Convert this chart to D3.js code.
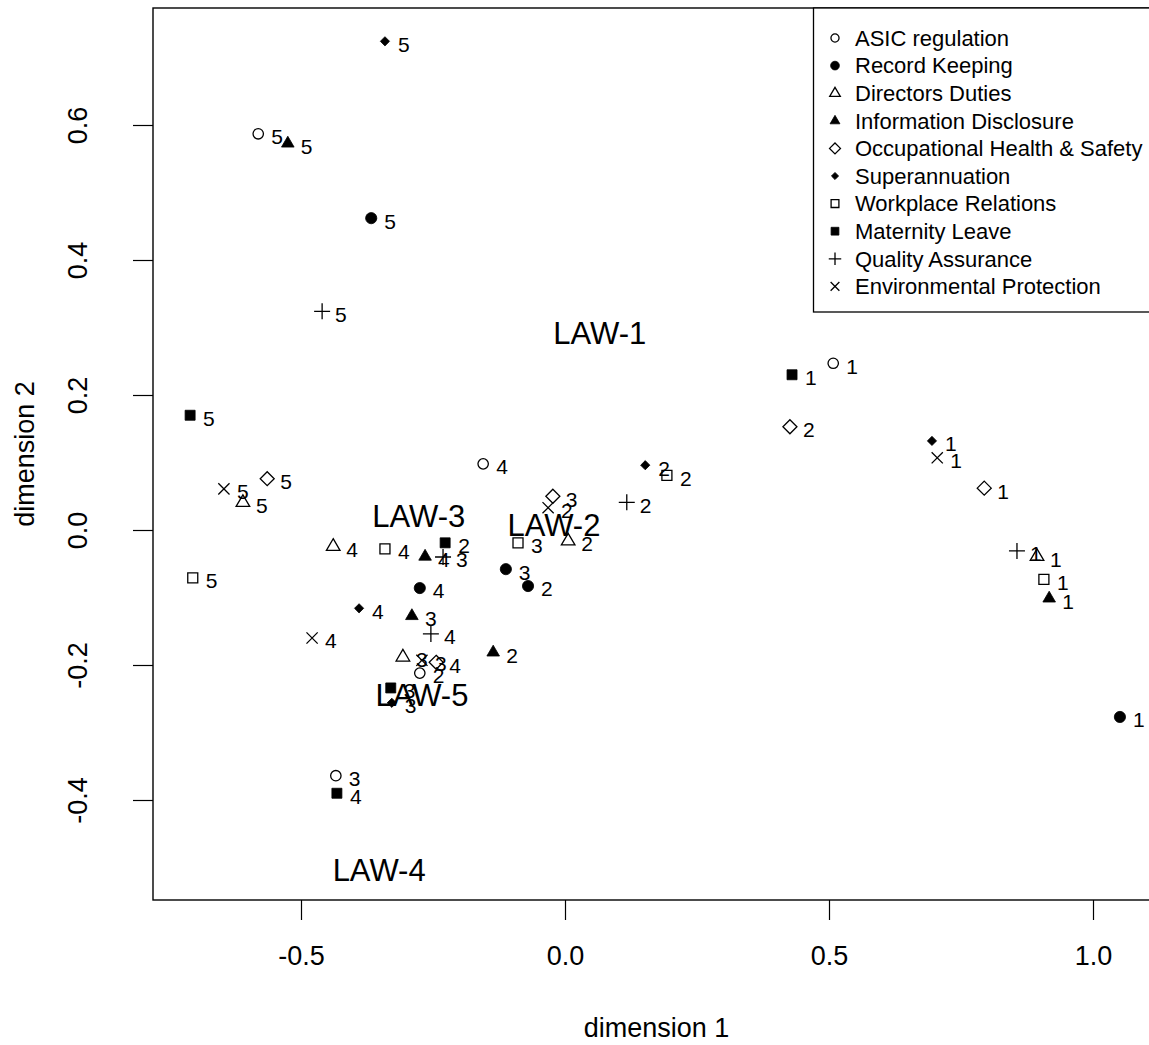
<!DOCTYPE html>
<html>
<head>
<meta charset="utf-8">
<script src="https://cdn.jsdelivr.net/npm/d3@7"></script>
<style>
  body { margin: 0; background: #fff; }
  text { font-family: Arial, "Liberation Sans", sans-serif; fill: #000; }
</style>
</head>
<body>
<svg id="chart" width="1149" height="1045"></svg>
<script>
// Regulation categories, in legend order
const categories = [
  "ASIC regulation", "Record Keeping", "Directors Duties", "Information Disclosure",
  "Occupational Health & Safety", "Superannuation", "Workplace Relations",
  "Maternity Leave", "Quality Assurance", "Environmental Protection"
];
// Point labels: the law each coordinate belongs to
const laws = ["1", "2", "3", "4", "5"];

// Coordinates per category, one entry per law (LAW-1 .. LAW-5)
const asicDim1 = [0.508, -0.275, -0.434, -0.155, -0.581];
const asicDim2 = [0.247, -0.212, -0.364, 0.098, 0.587];
const recordDim1 = [1.051, -0.070, -0.112, -0.275, -0.367];
const recordDim2 = [-0.277, -0.083, -0.058, -0.086, 0.462];
const directorsDim1 = [0.894, 0.006, -0.307, -0.439, -0.610];
const directorsDim2 = [-0.039, -0.016, -0.188, -0.024, 0.041];
const disclosureDim1 = [0.917, -0.136, -0.290, -0.265, -0.525];
const disclosureDim2 = [-0.101, -0.181, -0.127, -0.039, 0.573];
const ohsDim1 = [0.794, 0.426, -0.023, -0.244, -0.564];
const ohsDim2 = [0.062, 0.153, 0.050, -0.196, 0.076];
const superDim1 = [0.695, 0.152, -0.328, -0.390, -0.341];
const superDim2 = [0.132, 0.096, -0.256, -0.116, 0.724];
const workplaceDim1 = [0.907, 0.193, -0.089, -0.341, -0.705];
const workplaceDim2 = [-0.073, 0.081, -0.019, -0.028, -0.071];
const maternityDim1 = [0.430, -0.227, -0.330, -0.432, -0.710];
const maternityDim2 = [0.230, -0.019, -0.234, -0.390, 0.170];
const qualityDim1 = [0.856, 0.117, -0.231, -0.254, -0.460];
const qualityDim2 = [-0.031, 0.041, -0.040, -0.154, 0.324];
const environDim1 = [0.705, -0.032, -0.271, -0.479, -0.646];
const environDim2 = [0.107, 0.033, -0.193, -0.160, 0.061];

// Law centroid labels
const lawNames = ["LAW-1", "LAW-2", "LAW-3", "LAW-4", "LAW-5"];
const lawDim1 = [0.066, -0.021, -0.277, -0.352, -0.271];
const lawDim2 = [0.292, 0.007, 0.021, -0.504, -0.244];

// Axis ticks
const xTicks = [-0.5, 0.0, 0.5, 1.0];
const yTicks = [-0.4, -0.2, 0.0, 0.2, 0.4, 0.6];

const symbolKinds = ["circleOpen", "circleFilled", "triOpen", "triFilled", "diamondOpen",
                     "diamondSmall", "squareOpen", "squareFilled", "plus", "cross"];
const dim1Sets = [asicDim1, recordDim1, directorsDim1, disclosureDim1, ohsDim1,
                  superDim1, workplaceDim1, maternityDim1, qualityDim1, environDim1];
const dim2Sets = [asicDim2, recordDim2, directorsDim2, disclosureDim2, ohsDim2,
                  superDim2, workplaceDim2, maternityDim2, qualityDim2, environDim2];

const series = categories.map((name, i) => ({
  name, kind: symbolKinds[i],
  points: laws.map((law, j) => ({ law, d1: dim1Sets[i][j], d2: dim2Sets[i][j] }))
}));

const svg = d3.select("#chart");
const box = { left: 153, top: 8, right: 1160, bottom: 900 };

const x = d3.scaleLinear().domain([-0.5, 1.0]).range([301, 1093]);
const y = d3.scaleLinear().domain([-0.4, 0.6]).range([800, 125]);

// Plot-style symbols (base-graphics look)
function symbolPath(kind, s) {
  switch (kind) {
    case "circleOpen":
    case "circleFilled": {
      const r = (kind === "circleOpen" ? 5.2 : 5.6) * s;
      return `M${-r},0A${r},${r} 0 1,0 ${r},0A${r},${r} 0 1,0 ${-r},0Z`;
    }
    case "triOpen": {
      const h = 7.5 * s, w = 6.8 * s;
      return `M0,${-h}L${w},${h * 0.55}L${-w},${h * 0.55}Z`;
    }
    case "triFilled": {
      const h = 7 * s, w = 6.3 * s;
      return `M0,${-h}L${w},${h * 0.55}L${-w},${h * 0.55}Z`;
    }
    case "diamondOpen": {
      const d = 7 * s;
      return `M0,${-d}L${d},0L0,${d}L${-d},0Z`;
    }
    case "diamondSmall": {
      const d = 4.6 * s;
      return `M0,${-d}L${d},0L0,${d}L${-d},0Z`;
    }
    case "squareOpen":
    case "squareFilled": {
      const a = 5 * s;
      return `M${-a},${-a}H${a}V${a}H${-a}Z`;
    }
    case "plus": {
      const a = 8 * s;
      return `M${-a},0H${a}M0,${-a}V${a}`;
    }
    case "cross": {
      const a = 5.6 * s;
      return `M${-a},${-a}L${a},${a}M${-a},${a}L${a},${-a}`;
    }
  }
}
const filledKinds = new Set(["circleFilled", "triFilled", "diamondSmall", "squareFilled"]);

function drawSymbol(sel, kind, s) {
  sel.append("path")
    .attr("d", symbolPath(kind, s))
    .attr("fill", filledKinds.has(kind) ? "#000" : "none")
    .attr("stroke", "#000")
    .attr("stroke-width", filledKinds.has(kind) ? 0.8 : 1.3);
}

// Axes
const xAxis = svg.append("g")
  .attr("transform", `translate(0,${box.bottom})`)
  .call(d3.axisBottom(x).tickValues(xTicks).tickSize(20).tickPadding(26)
    .tickFormat(d => d.toFixed(1)));
xAxis.select(".domain").remove();
xAxis.selectAll("line").attr("stroke", "#000").attr("stroke-width", 1.2);
xAxis.selectAll("text").attr("font-size", 27).attr("font-family", "Arial, 'Liberation Sans', sans-serif");

const yAxis = svg.append("g")
  .attr("transform", `translate(${box.left},0)`)
  .call(d3.axisLeft(y).tickValues(yTicks).tickSize(20).tickFormat(d => d.toFixed(1)));
yAxis.select(".domain").remove();
yAxis.selectAll("line").attr("stroke", "#000").attr("stroke-width", 1.2);
yAxis.selectAll("text")
  .attr("font-size", 27)
  .attr("font-family", "Arial, 'Liberation Sans', sans-serif")
  .attr("text-anchor", "middle")
  .attr("transform", "rotate(-90)")
  .attr("x", 0)
  .attr("y", -75)
  .attr("dy", "0.35em");

// Axis titles
svg.append("text")
  .attr("x", (box.left + box.right) / 2).attr("y", 1028)
  .attr("dy", "0.35em").attr("text-anchor", "middle").attr("font-size", 27)
  .text("dimension 1");
svg.append("text")
  .attr("transform", `translate(25,${(box.top + box.bottom) / 2}) rotate(-90)`)
  .attr("dy", "0.35em").attr("text-anchor", "middle").attr("font-size", 27)
  .text("dimension 2");

// Plot frame
svg.append("rect")
  .attr("x", box.left).attr("y", box.top)
  .attr("width", box.right - box.left).attr("height", box.bottom - box.top)
  .attr("fill", "none").attr("stroke", "#000").attr("stroke-width", 1.4);

// Points with their law numbers
const plot = svg.append("g");
series.forEach(ser => {
  ser.points.forEach(p => {
    const g = plot.append("g").attr("transform", `translate(${x(p.d1)},${y(p.d2)})`);
    drawSymbol(g, ser.kind, 1);
  });
});
series.forEach(ser => {
  plot.selectAll(null).data(ser.points).enter().append("text")
    .attr("x", p => x(p.d1) + 13)
    .attr("y", p => y(p.d2) + 3)
    .attr("dy", "0.35em")
    .attr("font-size", 21)
    .text(p => p.law);
});

// Law centroid labels
plot.selectAll(null).data(lawNames).enter().append("text")
  .attr("x", (d, i) => x(lawDim1[i]))
  .attr("y", (d, i) => y(lawDim2[i]))
  .attr("dy", "0.35em")
  .attr("text-anchor", "middle")
  .attr("font-size", 31)
  .text(d => d);

// Legend
const legend = svg.append("g");
legend.append("rect")
  .attr("x", 813.5).attr("y", box.top).attr("width", 400).attr("height", 304)
  .attr("fill", "#fff").attr("stroke", "#000").attr("stroke-width", 1.3);
series.forEach((ser, i) => {
  const ly = 38 + i * 27.6;
  const g = legend.append("g").attr("transform", `translate(835,${ly})`);
  drawSymbol(g, ser.kind, 0.78);
  legend.append("text")
    .attr("x", 855).attr("y", ly).attr("dy", "0.35em")
    .attr("font-size", 22)
    .text(ser.name);
});
</script>
</body>
</html>
